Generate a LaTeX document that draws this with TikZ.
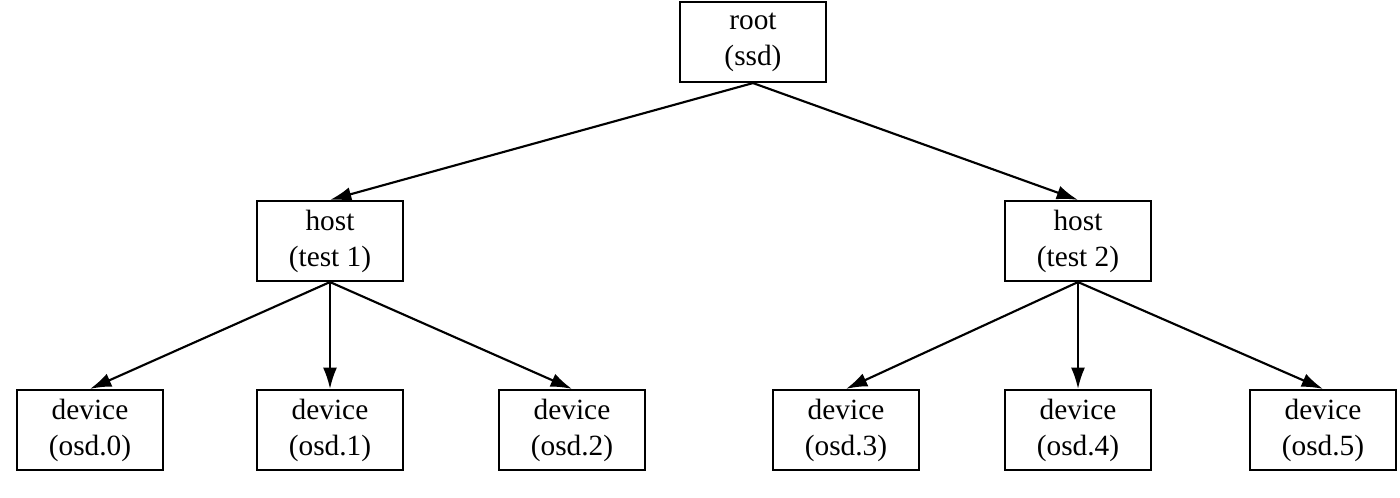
\documentclass[tikz,border=0pt]{standalone}
\usepackage{fontspec}
\setmainfont{Liberation Serif}
\usetikzlibrary{arrows.meta}
\begin{document}
\begin{tikzpicture}[x=0.75pt,y=-0.75pt,
  box/.style={draw,line width=1.6pt,minimum width=109pt,minimum height=60pt,inner sep=0pt,align=center,font=\fontsize{22}{27}\selectfont},
  conn/.style={line width=1.6pt,-{Latex[length=16pt,width=10.5pt]}}]
\useasboundingbox (0,0) rectangle (1400,498);
\node[box] (root) at (753,42) {root\\(ssd)};
\node[box] (h1) at (330,241) {host\\(test 1)};
\node[box] (h2) at (1078,241) {host\\(test 2)};
\node[box] (d0) at (90,430) {device\\(osd.0)};
\node[box] (d1) at (330,430) {device\\(osd.1)};
\node[box] (d2) at (572,430) {device\\(osd.2)};
\node[box] (d3) at (846,430) {device\\(osd.3)};
\node[box] (d4) at (1078,430) {device\\(osd.4)};
\node[box] (d5) at (1323,430) {device\\(osd.5)};
\draw[conn] (root.south) -- (h1.north);
\draw[conn] (root.south) -- (h2.north);
\foreach \d in {d0,d1,d2} \draw[conn] (h1.south) -- (\d.north);
\foreach \d in {d3,d4,d5} \draw[conn] (h2.south) -- (\d.north);
\end{tikzpicture}
\end{document}
